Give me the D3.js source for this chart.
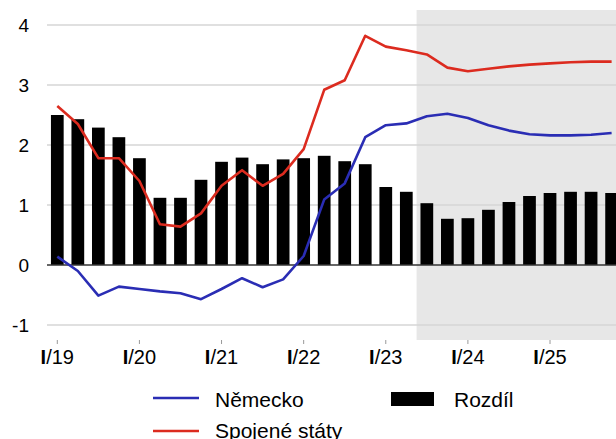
<!DOCTYPE html>
<html>
<head>
<meta charset="utf-8">
<script src="https://cdn.jsdelivr.net/npm/d3@7/dist/d3.min.js"></script>
<style>
  html, body { margin: 0; padding: 0; background: #fff; }
  svg { display: block; font-family: "Liberation Sans", Arial, sans-serif; }
</style>
</head>
<body>
<svg id="chart" width="616" height="439"></svg>
<script>
// Quarterly periods I/19 – IV/25
const years = ["19", "20", "21", "22", "23", "24", "25"];
const quarters = years.flatMap(y => ["I", "II", "III", "IV"].map(q => q + "/" + y));

// Německo (y/y, %)
const germany = [0.14, -0.10, -0.51, -0.36, -0.40, -0.44, -0.47, -0.57,
                 -0.40, -0.22, -0.37, -0.24, 0.15, 1.09, 1.36, 2.13,
                 2.33, 2.36, 2.48, 2.52, 2.45, 2.33, 2.24, 2.18,
                 2.16, 2.16, 2.17, 2.20];
// Spojené státy (y/y, %)
const usa = [2.65, 2.35, 1.78, 1.78, 1.40, 0.68, 0.64, 0.86,
             1.32, 1.58, 1.32, 1.52, 1.93, 2.92, 3.08, 3.82,
             3.64, 3.58, 3.51, 3.29, 3.23, 3.27, 3.31, 3.34,
             3.36, 3.38, 3.39, 3.39];
// Rozdíl (bars)
const diff = [2.50, 2.43, 2.29, 2.13, 1.78, 1.12, 1.12, 1.42,
              1.72, 1.79, 1.68, 1.76, 1.78, 1.82, 1.73, 1.68,
              1.30, 1.22, 1.03, 0.77, 0.78, 0.92, 1.05, 1.15,
              1.20, 1.22, 1.22, 1.20];

const yTicks = [-1, 0, 1, 2, 3, 4];
const forecastStart = "III/23";

const svg = d3.select("#chart");
const plotLeft = 47, plotRight = 616, plotTop = 10, plotBottom = 340;
const step = 20.53, firstX = 57.3;

const x = d3.scaleBand()
  .domain(quarters)
  .range([firstX - step / 2, firstX - step / 2 + step * quarters.length])
  .paddingInner(0.38).paddingOuter(0.19);
const cx = q => x(q) + x.bandwidth() / 2;

const y = d3.scaleLinear().domain([-1, 4]).range([325, 25]);

// forecast shading
const shadeX = x(forecastStart) - x.step() * x.paddingInner() / 2;
svg.append("rect")
  .attr("x", shadeX)
  .attr("y", plotTop)
  .attr("width", plotRight - shadeX)
  .attr("height", plotBottom - plotTop)
  .attr("fill", "#e7e7e7");

// gridlines
svg.append("g").selectAll("line")
  .data(yTicks.filter(d => d !== 0))
  .join("line")
  .attr("x1", plotLeft).attr("x2", plotRight)
  .attr("y1", d => y(d)).attr("y2", d => y(d))
  .attr("stroke", "#d6d6d6").attr("stroke-width", 1.3);

// y axis labels
svg.append("g").selectAll("text")
  .data(yTicks)
  .join("text")
  .attr("x", 29).attr("y", d => y(d))
  .attr("dy", "0.36em")
  .attr("text-anchor", "end")
  .attr("font-size", 19)
  .attr("fill", "#000")
  .text(d => d);

// bars
svg.append("g").selectAll("rect")
  .data(diff)
  .join("rect")
  .attr("x", (d, i) => x(quarters[i]))
  .attr("width", x.bandwidth())
  .attr("y", d => y(Math.max(0, d)))
  .attr("height", d => Math.abs(y(d) - y(0)))
  .attr("fill", "#000");

// zero line
svg.append("line")
  .attr("x1", plotLeft).attr("x2", plotRight)
  .attr("y1", y(0)).attr("y2", y(0))
  .attr("stroke", "#333").attr("stroke-width", 1.3);

// lines
const line = d3.line().x((d, i) => cx(quarters[i])).y(d => y(d));
svg.append("path").datum(germany)
  .attr("d", line).attr("fill", "none")
  .attr("stroke", "#2a2db4").attr("stroke-width", 2.6)
  .attr("stroke-linejoin", "round");
svg.append("path").datum(usa)
  .attr("d", line).attr("fill", "none")
  .attr("stroke", "#dc2b1f").attr("stroke-width", 2.6)
  .attr("stroke-linejoin", "round");

// x axis ticks and labels (first quarter of each year)
const yearStarts = quarters.filter(q => q.startsWith("I/"));
const xa = svg.append("g");
xa.selectAll("line")
  .data(yearStarts)
  .join("line")
  .attr("x1", d => cx(d)).attr("x2", d => cx(d))
  .attr("y1", 340).attr("y2", 344)
  .attr("stroke", "#999").attr("stroke-width", 1);
const lbl = xa.selectAll("text")
  .data(yearStarts)
  .join("text")
  .attr("x", d => cx(d)).attr("y", 364)
  .attr("text-anchor", "middle")
  .attr("font-size", 20)
  .attr("fill", "#000");
lbl.append("tspan").attr("font-weight", "bold").text(d => d.split("/")[0]);
lbl.append("tspan").text(d => "/" + d.split("/")[1]);

// legend
const lg = svg.append("g");
const legendFont = 21;
lg.append("line").attr("x1", 153).attr("x2", 199).attr("y1", 398).attr("y2", 398)
  .attr("stroke", "#2a2db4").attr("stroke-width", 2.6);
lg.append("text").attr("x", 215).attr("y", 406.5).attr("font-size", legendFont).text("Německo");
lg.append("line").attr("x1", 153).attr("x2", 199).attr("y1", 431).attr("y2", 431)
  .attr("stroke", "#dc2b1f").attr("stroke-width", 2.6);
lg.append("text").attr("x", 215).attr("y", 437.5).attr("font-size", legendFont).text("Spojené státy");
lg.append("rect").attr("x", 391).attr("y", 392).attr("width", 43).attr("height", 14).attr("fill", "#000");
lg.append("text").attr("x", 454).attr("y", 406.5).attr("font-size", legendFont).text("Rozdíl");
</script>
</body>
</html>
